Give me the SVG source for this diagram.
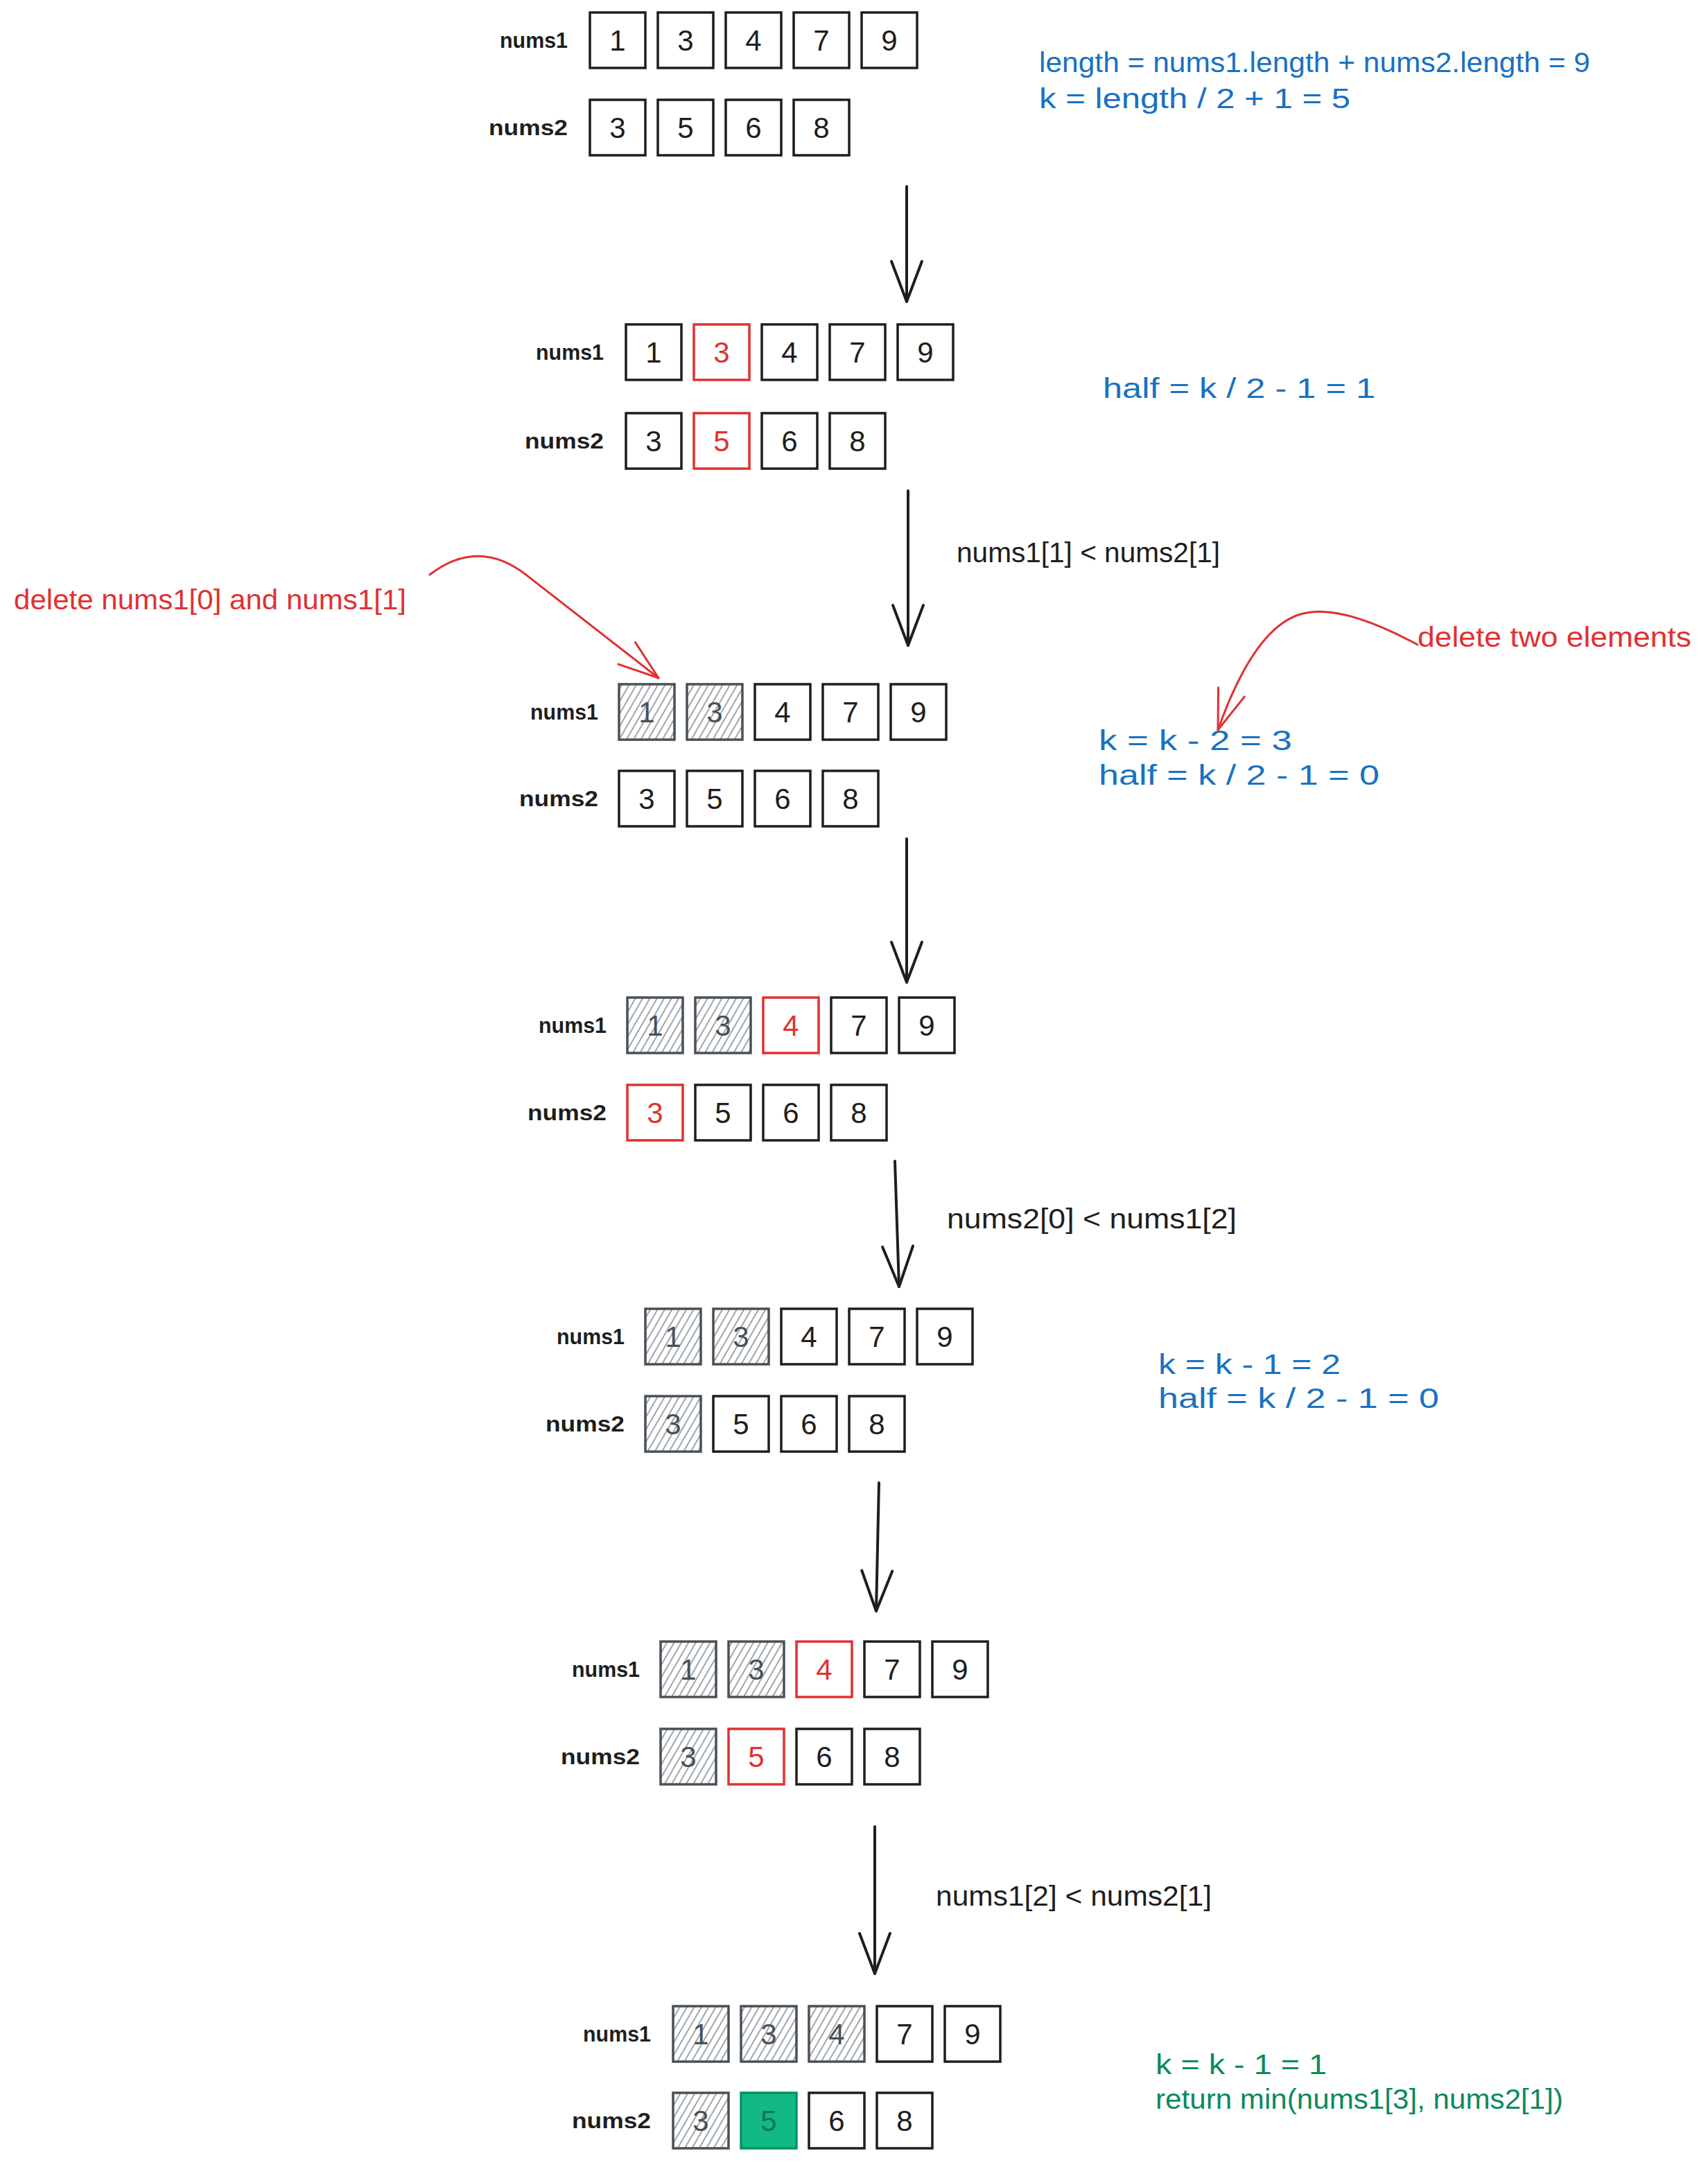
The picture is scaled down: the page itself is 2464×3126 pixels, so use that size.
<svg xmlns="http://www.w3.org/2000/svg" width="2464" height="3126" viewBox="0 0 2464 3126">
<style>
text{font-family:"Liberation Sans","DejaVu Sans",sans-serif;}
.bg{fill:#ffffff;}
.box{fill:none;stroke:#1e1e1e;stroke-width:3.5;}
.num{font-size:42px;fill:#1e1e1e;text-anchor:middle;dominant-baseline:central;}
.lbl{font-size:32px;font-weight:bold;fill:#1e1e1e;text-anchor:end;dominant-baseline:central;}
.red .box{stroke:#e03131;}
.red .num{fill:#e03131;}
.hat .box{fill:url(#hatch);stroke:#495057;}
.hat .num{fill:#495057;}
.grn .box{fill:#12b886;stroke:#099268;}
.grn .num{fill:#0b7a55;}
.ann{font-size:40px;dominant-baseline:central;}
.blue{fill:#1971c2;}
.rtx{fill:#e03131;}
.gtx{fill:#0c8a5a;}
.blk{fill:#1e1e1e;}
.arr{fill:none;stroke:#1e1e1e;stroke-width:4;stroke-linecap:round;marker-end:url(#ah);}
.rarr{fill:none;stroke:#e03131;stroke-width:3;stroke-linecap:round;marker-end:url(#rah);}
</style>
<defs>
<pattern id="hatch" patternUnits="userSpaceOnUse" width="9" height="9" patternTransform="rotate(30)">
<line x1="2" y1="0" x2="2" y2="9" stroke="#868e96" stroke-width="1.6"/>
</pattern>
<marker id="ah" markerUnits="userSpaceOnUse" viewBox="-70 -30 80 60" markerWidth="80" markerHeight="60" refX="0" refY="0" orient="auto">
<path d="M-58,-22 L0,0 L-58,22" fill="none" stroke="#1e1e1e" stroke-width="4" stroke-linecap="round" stroke-linejoin="round"/>
</marker>
<marker id="rah" markerUnits="userSpaceOnUse" viewBox="-70 -30 80 60" markerWidth="80" markerHeight="60" refX="0" refY="0" orient="auto">
<path d="M-58,-20 L0,0 L-58,20" fill="none" stroke="#e03131" stroke-width="3" stroke-linecap="round" stroke-linejoin="round"/>
</marker>
</defs>
<rect class="bg" x="0" y="0" width="2464" height="3126"/>

<g id="connectors">
<path class="arr" d="M1308,269 L1308,435"/>
<path class="arr" d="M1310,708 L1310,931"/>
<path class="arr" d="M1308,1210 L1308,1417"/>
<path class="arr" d="M1291,1675 L1297,1856"/>
<path class="arr" d="M1268,2139 L1264,2324"/>
<path class="arr" d="M1262,2635 L1262,2847"/>
<path class="rarr" d="M620,829 Q690,775 760,830 L950,978"/>
<path class="rarr" d="M2045,930 C1980,895 1920,875 1880,885 C1830,897 1790,960 1757,1053"/>
</g>

<g id="annotations">
<text class="ann blue" x="1499" y="90" textLength="795" lengthAdjust="spacingAndGlyphs">length = nums1.length + nums2.length = 9</text>
<text class="ann blue" x="1499" y="142" textLength="449" lengthAdjust="spacingAndGlyphs">k = length / 2 + 1 = 5</text>
<text class="ann blue" x="1591" y="560" textLength="393" lengthAdjust="spacingAndGlyphs">half = k / 2 - 1 = 1</text>
<text class="ann blk" x="1380" y="797" textLength="380" lengthAdjust="spacingAndGlyphs">nums1[1] &lt; nums2[1]</text>
<text class="ann rtx" x="20" y="865" textLength="566" lengthAdjust="spacingAndGlyphs">delete nums1[0] and nums1[1]</text>
<text class="ann rtx" x="2045" y="919" textLength="395" lengthAdjust="spacingAndGlyphs">delete two elements</text>
<text class="ann blue" x="1585" y="1068" textLength="279" lengthAdjust="spacingAndGlyphs">k = k - 2 = 3</text>
<text class="ann blue" x="1585" y="1118" textLength="405" lengthAdjust="spacingAndGlyphs">half = k / 2 - 1 = 0</text>
<text class="ann blk" x="1366" y="1758" textLength="418" lengthAdjust="spacingAndGlyphs">nums2[0] &lt; nums1[2]</text>
<text class="ann blue" x="1671" y="1968" textLength="263" lengthAdjust="spacingAndGlyphs">k = k - 1 = 2</text>
<text class="ann blue" x="1671" y="2017" textLength="405" lengthAdjust="spacingAndGlyphs">half = k / 2 - 1 = 0</text>
<text class="ann blk" x="1350" y="2735" textLength="398" lengthAdjust="spacingAndGlyphs">nums1[2] &lt; nums2[1]</text>
<text class="ann gtx" x="1667" y="2978" textLength="247" lengthAdjust="spacingAndGlyphs">k = k - 1 = 1</text>
<text class="ann gtx" x="1667" y="3028" textLength="588" lengthAdjust="spacingAndGlyphs">return min(nums1[3], nums2[1])</text>
</g>

<!-- Block 1 -->
<g id="s1">
<text class="lbl" x="819" y="58" textLength="98" lengthAdjust="spacingAndGlyphs">nums1</text>
<text class="lbl" x="819" y="184" textLength="114" lengthAdjust="spacingAndGlyphs">nums2</text>
<g id="s1-a0"><rect class="box" x="851" y="18" width="80" height="80"/><text class="num" x="891" y="58">1</text></g>
<g id="s1-a1"><rect class="box" x="949" y="18" width="80" height="80"/><text class="num" x="989" y="58">3</text></g>
<g id="s1-a2"><rect class="box" x="1047" y="18" width="80" height="80"/><text class="num" x="1087" y="58">4</text></g>
<g id="s1-a3"><rect class="box" x="1145" y="18" width="80" height="80"/><text class="num" x="1185" y="58">7</text></g>
<g id="s1-a4"><rect class="box" x="1243" y="18" width="80" height="80"/><text class="num" x="1283" y="58">9</text></g>
<g id="s1-b0"><rect class="box" x="851" y="144" width="80" height="80"/><text class="num" x="891" y="184">3</text></g>
<g id="s1-b1"><rect class="box" x="949" y="144" width="80" height="80"/><text class="num" x="989" y="184">5</text></g>
<g id="s1-b2"><rect class="box" x="1047" y="144" width="80" height="80"/><text class="num" x="1087" y="184">6</text></g>
<g id="s1-b3"><rect class="box" x="1145" y="144" width="80" height="80"/><text class="num" x="1185" y="184">8</text></g>
</g>

<!-- Block 2 -->
<g id="s2">
<text class="lbl" x="871" y="508" textLength="98" lengthAdjust="spacingAndGlyphs">nums1</text>
<text class="lbl" x="871" y="636" textLength="114" lengthAdjust="spacingAndGlyphs">nums2</text>
<g id="s2-a0"><rect class="box" x="903" y="468" width="80" height="80"/><text class="num" x="943" y="508">1</text></g>
<g id="s2-a1" class="red"><rect class="box" x="1001" y="468" width="80" height="80"/><text class="num" x="1041" y="508">3</text></g>
<g id="s2-a2"><rect class="box" x="1099" y="468" width="80" height="80"/><text class="num" x="1139" y="508">4</text></g>
<g id="s2-a3"><rect class="box" x="1197" y="468" width="80" height="80"/><text class="num" x="1237" y="508">7</text></g>
<g id="s2-a4"><rect class="box" x="1295" y="468" width="80" height="80"/><text class="num" x="1335" y="508">9</text></g>
<g id="s2-b0"><rect class="box" x="903" y="596" width="80" height="80"/><text class="num" x="943" y="636">3</text></g>
<g id="s2-b1" class="red"><rect class="box" x="1001" y="596" width="80" height="80"/><text class="num" x="1041" y="636">5</text></g>
<g id="s2-b2"><rect class="box" x="1099" y="596" width="80" height="80"/><text class="num" x="1139" y="636">6</text></g>
<g id="s2-b3"><rect class="box" x="1197" y="596" width="80" height="80"/><text class="num" x="1237" y="636">8</text></g>
</g>

<!-- Block 3 -->
<g id="s3">
<text class="lbl" x="863" y="1027" textLength="98" lengthAdjust="spacingAndGlyphs">nums1</text>
<text class="lbl" x="863" y="1152" textLength="114" lengthAdjust="spacingAndGlyphs">nums2</text>
<g id="s3-a0" class="hat"><rect class="box" x="893" y="987" width="80" height="80"/><text class="num" x="933" y="1027">1</text></g>
<g id="s3-a1" class="hat"><rect class="box" x="991" y="987" width="80" height="80"/><text class="num" x="1031" y="1027">3</text></g>
<g id="s3-a2"><rect class="box" x="1089" y="987" width="80" height="80"/><text class="num" x="1129" y="1027">4</text></g>
<g id="s3-a3"><rect class="box" x="1187" y="987" width="80" height="80"/><text class="num" x="1227" y="1027">7</text></g>
<g id="s3-a4"><rect class="box" x="1285" y="987" width="80" height="80"/><text class="num" x="1325" y="1027">9</text></g>
<g id="s3-b0"><rect class="box" x="893" y="1112" width="80" height="80"/><text class="num" x="933" y="1152">3</text></g>
<g id="s3-b1"><rect class="box" x="991" y="1112" width="80" height="80"/><text class="num" x="1031" y="1152">5</text></g>
<g id="s3-b2"><rect class="box" x="1089" y="1112" width="80" height="80"/><text class="num" x="1129" y="1152">6</text></g>
<g id="s3-b3"><rect class="box" x="1187" y="1112" width="80" height="80"/><text class="num" x="1227" y="1152">8</text></g>
</g>

<!-- Block 4 -->
<g id="s4">
<text class="lbl" x="875" y="1479" textLength="98" lengthAdjust="spacingAndGlyphs">nums1</text>
<text class="lbl" x="875" y="1605" textLength="114" lengthAdjust="spacingAndGlyphs">nums2</text>
<g id="s4-a0" class="hat"><rect class="box" x="905" y="1439" width="80" height="80"/><text class="num" x="945" y="1479">1</text></g>
<g id="s4-a1" class="hat"><rect class="box" x="1003" y="1439" width="80" height="80"/><text class="num" x="1043" y="1479">3</text></g>
<g id="s4-a2" class="red"><rect class="box" x="1101" y="1439" width="80" height="80"/><text class="num" x="1141" y="1479">4</text></g>
<g id="s4-a3"><rect class="box" x="1199" y="1439" width="80" height="80"/><text class="num" x="1239" y="1479">7</text></g>
<g id="s4-a4"><rect class="box" x="1297" y="1439" width="80" height="80"/><text class="num" x="1337" y="1479">9</text></g>
<g id="s4-b0" class="red"><rect class="box" x="905" y="1565" width="80" height="80"/><text class="num" x="945" y="1605">3</text></g>
<g id="s4-b1"><rect class="box" x="1003" y="1565" width="80" height="80"/><text class="num" x="1043" y="1605">5</text></g>
<g id="s4-b2"><rect class="box" x="1101" y="1565" width="80" height="80"/><text class="num" x="1141" y="1605">6</text></g>
<g id="s4-b3"><rect class="box" x="1199" y="1565" width="80" height="80"/><text class="num" x="1239" y="1605">8</text></g>
</g>

<!-- Block 5 -->
<g id="s5">
<text class="lbl" x="901" y="1928" textLength="98" lengthAdjust="spacingAndGlyphs">nums1</text>
<text class="lbl" x="901" y="2054" textLength="114" lengthAdjust="spacingAndGlyphs">nums2</text>
<g id="s5-a0" class="hat"><rect class="box" x="931" y="1888" width="80" height="80"/><text class="num" x="971" y="1928">1</text></g>
<g id="s5-a1" class="hat"><rect class="box" x="1029" y="1888" width="80" height="80"/><text class="num" x="1069" y="1928">3</text></g>
<g id="s5-a2"><rect class="box" x="1127" y="1888" width="80" height="80"/><text class="num" x="1167" y="1928">4</text></g>
<g id="s5-a3"><rect class="box" x="1225" y="1888" width="80" height="80"/><text class="num" x="1265" y="1928">7</text></g>
<g id="s5-a4"><rect class="box" x="1323" y="1888" width="80" height="80"/><text class="num" x="1363" y="1928">9</text></g>
<g id="s5-b0" class="hat"><rect class="box" x="931" y="2014" width="80" height="80"/><text class="num" x="971" y="2054">3</text></g>
<g id="s5-b1"><rect class="box" x="1029" y="2014" width="80" height="80"/><text class="num" x="1069" y="2054">5</text></g>
<g id="s5-b2"><rect class="box" x="1127" y="2014" width="80" height="80"/><text class="num" x="1167" y="2054">6</text></g>
<g id="s5-b3"><rect class="box" x="1225" y="2014" width="80" height="80"/><text class="num" x="1265" y="2054">8</text></g>
</g>

<!-- Block 6 -->
<g id="s6">
<text class="lbl" x="923" y="2408" textLength="98" lengthAdjust="spacingAndGlyphs">nums1</text>
<text class="lbl" x="923" y="2534" textLength="114" lengthAdjust="spacingAndGlyphs">nums2</text>
<g id="s6-a0" class="hat"><rect class="box" x="953" y="2368" width="80" height="80"/><text class="num" x="993" y="2408">1</text></g>
<g id="s6-a1" class="hat"><rect class="box" x="1051" y="2368" width="80" height="80"/><text class="num" x="1091" y="2408">3</text></g>
<g id="s6-a2" class="red"><rect class="box" x="1149" y="2368" width="80" height="80"/><text class="num" x="1189" y="2408">4</text></g>
<g id="s6-a3"><rect class="box" x="1247" y="2368" width="80" height="80"/><text class="num" x="1287" y="2408">7</text></g>
<g id="s6-a4"><rect class="box" x="1345" y="2368" width="80" height="80"/><text class="num" x="1385" y="2408">9</text></g>
<g id="s6-b0" class="hat"><rect class="box" x="953" y="2494" width="80" height="80"/><text class="num" x="993" y="2534">3</text></g>
<g id="s6-b1" class="red"><rect class="box" x="1051" y="2494" width="80" height="80"/><text class="num" x="1091" y="2534">5</text></g>
<g id="s6-b2"><rect class="box" x="1149" y="2494" width="80" height="80"/><text class="num" x="1189" y="2534">6</text></g>
<g id="s6-b3"><rect class="box" x="1247" y="2494" width="80" height="80"/><text class="num" x="1287" y="2534">8</text></g>
</g>

<!-- Block 7 -->
<g id="s7">
<text class="lbl" x="939" y="2934" textLength="98" lengthAdjust="spacingAndGlyphs">nums1</text>
<text class="lbl" x="939" y="3059" textLength="114" lengthAdjust="spacingAndGlyphs">nums2</text>
<g id="s7-a0" class="hat"><rect class="box" x="971" y="2894" width="80" height="80"/><text class="num" x="1011" y="2934">1</text></g>
<g id="s7-a1" class="hat"><rect class="box" x="1069" y="2894" width="80" height="80"/><text class="num" x="1109" y="2934">3</text></g>
<g id="s7-a2" class="hat"><rect class="box" x="1167" y="2894" width="80" height="80"/><text class="num" x="1207" y="2934">4</text></g>
<g id="s7-a3"><rect class="box" x="1265" y="2894" width="80" height="80"/><text class="num" x="1305" y="2934">7</text></g>
<g id="s7-a4"><rect class="box" x="1363" y="2894" width="80" height="80"/><text class="num" x="1403" y="2934">9</text></g>
<g id="s7-b0" class="hat"><rect class="box" x="971" y="3019" width="80" height="80"/><text class="num" x="1011" y="3059">3</text></g>
<g id="s7-b1" class="grn"><rect class="box" x="1069" y="3019" width="80" height="80"/><text class="num" x="1109" y="3059">5</text></g>
<g id="s7-b2"><rect class="box" x="1167" y="3019" width="80" height="80"/><text class="num" x="1207" y="3059">6</text></g>
<g id="s7-b3"><rect class="box" x="1265" y="3019" width="80" height="80"/><text class="num" x="1305" y="3059">8</text></g>
</g>
</svg>
